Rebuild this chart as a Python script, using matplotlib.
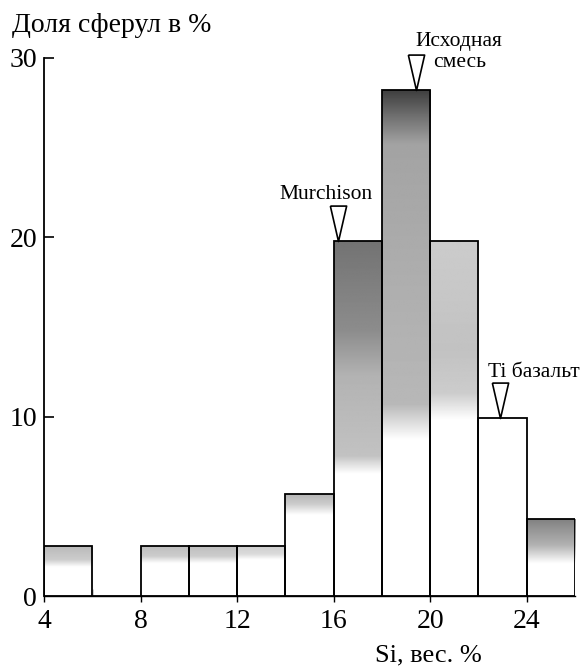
import numpy as np
import matplotlib.pyplot as plt

# histogram of Si content in spherules, 2 wt.% bins
bin_left = [4, 6, 8, 10, 12, 14, 16, 18, 20, 22, 24]
share = [2.8, 0, 2.8, 2.8, 2.8, 5.7, 19.8, 28.2, 19.8, 9.9, 4.3]
bin_width = 2

# reference compositions marked with open triangles
ref_names = ["Murchison", "Исходная", "смесь", "Ti базальт"]
ref_si = [16.2, 19.4, 22.9]
ref_level = [19.8, 28.2, 9.9]

# grey tone of each bar: (distance below bar top, grey level) stops
shade_stops = [
    [(0, 0.72), (0.8, 0.80), (1.2, 1.0)],
    [(0, 1.0)],
    [(0, 0.74), (0.6, 0.80), (1.0, 1.0)],
    [(0, 0.74), (0.6, 0.80), (1.0, 1.0)],
    [(0, 0.80), (0.5, 0.86), (0.8, 1.0)],
    [(0, 0.70), (0.6, 0.80), (1.2, 1.0)],
    [(0, 0.45), (5.0, 0.55), (7.5, 0.70), (12.0, 0.76), (13.0, 1.0)],
    [(0, 0.25), (1.5, 0.45), (3.0, 0.64), (17.5, 0.72), (19.5, 1.0)],
    [(0, 0.80), (6.0, 0.76), (8.5, 0.80), (10.0, 1.0)],
    [(0, 1.0)],
    [(0, 0.50), (1.5, 0.70), (2.5, 1.0)],
]

plt.rcParams['font.family'] = ['Liberation Serif', 'DejaVu Serif']

fig = plt.figure(figsize=(5.84, 6.66), dpi=100)
ax = fig.add_axes([0.0753, 0.105, 0.9093, 0.808])

bars = ax.bar(bin_left, share, width=bin_width, align='edge',
              facecolor='none', edgecolor='black', linewidth=1.3, zorder=3)

for b, h, stops in zip(bars, share, shade_stops):
    if h <= 0:
        continue
    y = np.linspace(0, h, 300)
    dist, level = zip(*stops)
    g = np.interp(h - y, dist, level)
    img = ax.imshow(g[::-1, None], cmap='gray', vmin=0, vmax=1, aspect='auto',
                    extent=(b.get_x(), b.get_x() + b.get_width(), 0, h),
                    interpolation='bilinear', zorder=2)
    img.set_clip_path(b)

# open downward triangles with the tip on the bar top
tri = [(-0.23, 1.0), (0.23, 1.0), (0.0, 0.0), (-0.23, 1.0)]
ax.plot(ref_si, ref_level, linestyle='none', marker=tri, markersize=51,
        markerfacecolor='white', markeredgecolor='black', markeredgewidth=1.2,
        zorder=5, clip_on=False)

ax.text(15.68, ref_level[0] + 2.35, ref_names[0], ha='center',
        va='baseline', fontsize=15.5)
ax.text(21.2, ref_level[1] + 2.45, ref_names[1], ha='center',
        va='baseline', fontsize=15.5)
ax.text(21.2, ref_level[1] + 1.3, ref_names[2], ha='center',
        va='baseline', fontsize=15.5)
ax.text(24.3, ref_level[2] + 2.3, ref_names[3], ha='center',
        va='baseline', fontsize=15.5)

ax.set_xlim(4, 26)
ax.set_ylim(0, 30)
ax.spines['top'].set_visible(False)
ax.spines['right'].set_visible(False)
ax.spines['left'].set_linewidth(1.3)
ax.spines['bottom'].set_linewidth(1.0)

ax.set_xticks([4, 8, 12, 16, 20, 24])
ax.set_xticks(np.arange(6, 26, 4), minor=True)
ax.set_yticks([0, 10, 20, 30])
ax.tick_params(axis='x', which='major', direction='inout', length=9, width=1,
               labelsize=20, pad=5)
ax.tick_params(axis='x', which='minor', direction='in', length=5, width=1)
ax.tick_params(axis='y', direction='in', length=7, width=1.2,
               labelsize=20, pad=5)

fig.text(12 / 584, 1 - 32 / 666, "Доля сферул в %", fontsize=20,
         ha='left', va='baseline')
fig.text(482 / 584, 1 - 661 / 666, "Si, вес. %", fontsize=19,
         ha='right', va='baseline')

fig.savefig('out.png', dpi=100)
